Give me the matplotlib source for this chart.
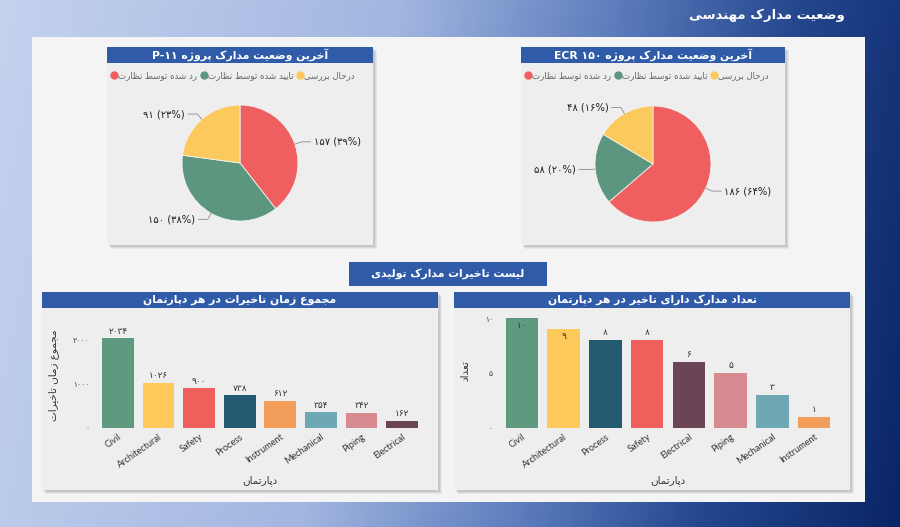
import re
import numpy as np
import matplotlib
matplotlib.use('Agg')
import matplotlib.pyplot as plt
from matplotlib.patches import Rectangle
from matplotlib.lines import Line2D
from matplotlib.colors import LinearSegmentedColormap

plt.rcParams['font.family'] = ['DejaVu Sans']

W, H = 900, 527

# ---- data ----
status_labels = ['رد شده توسط نظارت', 'تایید شده توسط نظارت', 'درحال بررسی']
p11_counts = [157, 150, 91]
ecr_counts = [186, 58, 48]

delay_depts = ['Civil', 'Architectural', 'Safety', 'Process', 'Instrument',
               'Mechanical', 'Piping', 'Electrical']
delay_days = [2034, 1026, 900, 738, 612, 354, 342, 162]

count_depts = ['Civil', 'Architectural', 'Process', 'Safety', 'Electrical',
               'Piping', 'Mechanical', 'Instrument']
count_docs = [10, 9, 8, 8, 6, 5, 3, 1]

# ---- styles ----
status_colors = ['#ef5f5f', '#5c967f', '#fcca5c']
dept_colors = {'Civil': '#5d9a80', 'Architectural': '#fdc95b', 'Safety': '#ef5f5c',
               'Process': '#245a70', 'Instrument': '#f29e5a', 'Mechanical': '#6ea8b5',
               'Piping': '#d88a91', 'Electrical': '#6b4556'}
BAR_BLUE = '#2f5ba8'
CARD = '#eeeeee'

# ---- minimal persian shaping (matplotlib has no shaping engine) ----
FORMS = {
    'آ': ('\uFE81', '\uFE82', None, None),
    'ا': ('\uFE8D', '\uFE8E', None, None),
    'ب': ('\uFE8F', '\uFE90', '\uFE91', '\uFE92'),
    'پ': ('\uFB56', '\uFB57', '\uFB58', '\uFB59'),
    'ت': ('\uFE95', '\uFE96', '\uFE97', '\uFE98'),
    'ث': ('\uFE99', '\uFE9A', '\uFE9B', '\uFE9C'),
    'ج': ('\uFE9D', '\uFE9E', '\uFE9F', '\uFEA0'),
    'چ': ('\uFB7A', '\uFB7B', '\uFB7C', '\uFB7D'),
    'ح': ('\uFEA1', '\uFEA2', '\uFEA3', '\uFEA4'),
    'خ': ('\uFEA5', '\uFEA6', '\uFEA7', '\uFEA8'),
    'د': ('\uFEA9', '\uFEAA', None, None),
    'ذ': ('\uFEAB', '\uFEAC', None, None),
    'ر': ('\uFEAD', '\uFEAE', None, None),
    'ز': ('\uFEAF', '\uFEB0', None, None),
    'ژ': ('\uFB8A', '\uFB8B', None, None),
    'س': ('\uFEB1', '\uFEB2', '\uFEB3', '\uFEB4'),
    'ش': ('\uFEB5', '\uFEB6', '\uFEB7', '\uFEB8'),
    'ص': ('\uFEB9', '\uFEBA', '\uFEBB', '\uFEBC'),
    'ض': ('\uFEBD', '\uFEBE', '\uFEBF', '\uFEC0'),
    'ط': ('\uFEC1', '\uFEC2', '\uFEC3', '\uFEC4'),
    'ظ': ('\uFEC5', '\uFEC6', '\uFEC7', '\uFEC8'),
    'ع': ('\uFEC9', '\uFECA', '\uFECB', '\uFECC'),
    'غ': ('\uFECD', '\uFECE', '\uFECF', '\uFED0'),
    'ف': ('\uFED1', '\uFED2', '\uFED3', '\uFED4'),
    'ق': ('\uFED5', '\uFED6', '\uFED7', '\uFED8'),
    'ک': ('\uFB8E', '\uFB8F', '\uFB90', '\uFB91'),
    'گ': ('\uFB92', '\uFB93', '\uFB94', '\uFB95'),
    'ل': ('\uFEDD', '\uFEDE', '\uFEDF', '\uFEE0'),
    'م': ('\uFEE1', '\uFEE2', '\uFEE3', '\uFEE4'),
    'ن': ('\uFEE5', '\uFEE6', '\uFEE7', '\uFEE8'),
    'ه': ('\uFEE9', '\uFEEA', '\uFEEB', '\uFEEC'),
    'و': ('\uFEED', '\uFEEE', None, None),
    'ی': ('\uFBFC', '\uFBFD', '\uFBFE', '\uFBFF'),
}
FA_DIGITS = str.maketrans('0123456789', '۰۱۲۳۴۵۶۷۸۹')


def shape(s):
    out = []
    for i, c in enumerate(s):
        if c not in FORMS:
            out.append(c)
            continue
        f = FORMS[c]
        prev = s[i - 1] if i > 0 else ''
        nxt = s[i + 1] if i < len(s) - 1 else ''
        jp = prev in FORMS and FORMS[prev][2] is not None
        jn = f[2] is not None and nxt in FORMS
        if jp and jn:
            out.append(f[3])
        elif jp:
            out.append(f[1])
        elif jn:
            out.append(f[2])
        else:
            out.append(f[0])
    return ''.join(out)


def fa(s):
    r = shape(s)[::-1]
    ltr = r'[A-Za-z0-9\u06F0-\u06F9\-]+(?: [A-Za-z0-9\u06F0-\u06F9\-]+)*'
    return re.sub(ltr, lambda m: m.group(0)[::-1], r)


def fnum(v):
    return str(v).translate(FA_DIGITS)


def rect(x0, y0, x1, y1):
    return [x0 / W, 1 - y1 / H, (x1 - x0) / W, (y1 - y0) / H]


fig = plt.figure(figsize=(9, 5.27), dpi=100)

# ---- background ----
bg = fig.add_axes([0, 0, 1, 1])
cmap = LinearSegmentedColormap.from_list('bg', [(0, '#c4d2ee'), (0.4, '#a2b6e0'),
                                                (0.62, '#5c7cbc'), (0.8, '#24478f'),
                                                (1, '#0a2566')])
gx = np.linspace(0, 1, 300)
gy = np.linspace(0, 1, 100)
grad = gx[None, :] * 0.9 + gy[:, None] * 0.1
bg.imshow(grad, cmap=cmap, extent=[0, W, H, 0], aspect='auto', vmin=0, vmax=1)
bg.set_xlim(0, W)
bg.set_ylim(H, 0)
bg.axis('off')

bg.text(767, 15, fa('وضعیت مدارک مهندسی'), color='white', fontsize=9.5,
        fontweight='bold', ha='center', va='center')

bg.add_patch(Rectangle((32, 37), 833, 465, facecolor='#f4f4f4', edgecolor='none'))


def card(x0, y0, x1, y1, title):
    for k, a in [(4, 0.05), (3, 0.06), (2, 0.08)]:
        bg.add_patch(Rectangle((x0 + k, y0 + k), x1 - x0, y1 - y0,
                               facecolor='#000000', alpha=a, edgecolor='none'))
    bg.add_patch(Rectangle((x0, y0), x1 - x0, y1 - y0, facecolor=CARD, edgecolor='none'))
    bg.add_patch(Rectangle((x0, y0), x1 - x0, 16, facecolor=BAR_BLUE, edgecolor='none'))
    bg.text((x0 + x1) / 2, y0 + 8, fa(title), color='white', fontsize=7.8,
            fontweight='bold', ha='center', va='center')


card(107, 47, 373, 245, 'آخرین وضعیت مدارک پروژه P-11'.translate(FA_DIGITS))
card(521, 47, 785, 245, 'آخرین وضعیت مدارک پروژه ECR 150'.translate(FA_DIGITS))
card(42, 292, 438, 490, 'مجموع زمان تاخیرات در هر دپارتمان')
card(454, 292, 850, 490, 'تعداد مدارک دارای تاخیر در هر دپارتمان')

bg.add_patch(Rectangle((349, 262), 198, 24, facecolor=BAR_BLUE, edgecolor='none'))
bg.text(448, 274, fa('لیست تاخیرات مدارک تولیدی'), color='white', fontsize=7.8,
        fontweight='bold', ha='center', va='center')


# ---- pies ----
def pie(cx, cy, counts, card_x0):
    R = 58
    L = 1.9
    ax = fig.add_axes(rect(cx - R * L, cy - R * L, cx + R * L, cy + R * L))
    wedges, _ = ax.pie(counts, colors=status_colors, startangle=90, counterclock=False,
                       radius=1, wedgeprops=dict(edgecolor='#f2f2f2', linewidth=0.6))
    ax.set_xlim(-L, L)
    ax.set_ylim(-L, L)
    ax.set_aspect('equal')
    ax.axis('off')
    total = sum(counts)
    for w, v in zip(wedges, counts):
        th = np.deg2rad((w.theta1 + w.theta2) / 2)
        x0, y0 = np.cos(th), np.sin(th)
        ex, ey = 1.12 * x0, 1.12 * y0
        side = 1 if x0 >= 0 else -1
        tx = ex + side * 0.16
        ax.plot([x0, ex, tx], [y0, ey, ey], color='#8a8a8a', lw=0.6, clip_on=False)
        lab = f'{fnum(v)} ({fnum(round(100 * v / total))}%)'
        ax.text(tx + side * 0.05, ey, lab, ha='left' if side > 0 else 'right',
                va='center', fontsize=7.2, color='#222222', clip_on=False)
    handles = [Line2D([], [], marker='o', ls='', markersize=5, color=c) for c in status_colors]
    fig.legend(handles, [fa(s) for s in status_labels], ncol=3, frameon=False,
               loc='center left', bbox_to_anchor=((card_x0 + 4) / W, 1 - 76 / H),
               fontsize=6.2, labelcolor='#666666', handletextpad=0.05,
               columnspacing=0.4, handlelength=0.8, borderpad=0, borderaxespad=0)


pie(240, 163, p11_counts, 107)
pie(653, 164, ecr_counts, 521)


# ---- bars ----
def bars(ax, depts, vals, ticks, ylabel, inside_from=None):
    x = np.arange(len(depts))
    ax.bar(x, vals, width=0.78, color=[dept_colors[d] for d in depts])
    ax.set_facecolor('none')
    for s in ax.spines.values():
        s.set_visible(False)
    ax.set_xticks(x)
    ax.set_xticklabels(depts, rotation=35, ha='right', rotation_mode='anchor',
                       fontsize=6.6, color='#333333', family='Lato')
    ax.set_yticks(ticks)
    ax.set_yticklabels([fnum(t) for t in ticks], fontsize=5.5, color='#444444')
    ax.tick_params(length=0, pad=3)
    ax.set_xlim(-0.6, len(depts) - 0.4)
    ax.set_xlabel(fa('دپارتمان'), fontsize=7.5, color='#333333', labelpad=4)
    ax.set_ylabel(fa(ylabel), fontsize=7.5, color='#333333', labelpad=10)
    top = ax.get_ylim()[1]
    for xi, v in zip(x, vals):
        if inside_from is not None and v >= inside_from:
            ax.text(xi, v - top * 0.03, fnum(v), ha='center', va='top',
                    fontsize=6.5, color='#333333')
        else:
            ax.text(xi, v + top * 0.025, fnum(v), ha='center', va='bottom',
                    fontsize=6.5, color='#333333')


ax1 = fig.add_axes(rect(93.6, 322, 426.4, 428))
ax1.set_ylim(0, 2400)
bars(ax1, delay_depts, delay_days, [0, 1000, 2000], 'مجموع زمان تاخیرات')

ax2 = fig.add_axes(rect(497, 312.5, 839, 428))
ax2.set_ylim(0, 10.5)
bars(ax2, count_depts, count_docs, [0, 5, 10], 'تعداد', inside_from=9)

fig.savefig('out.png', dpi=100)
